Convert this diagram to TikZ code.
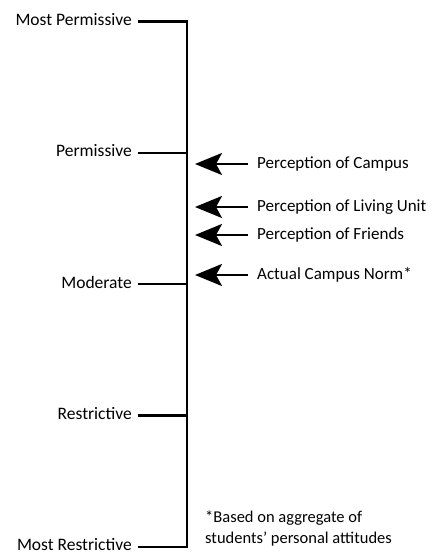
\documentclass[tikz,border=0pt]{standalone}
\usepackage{fontspec}
\setmainfont{Carlito}
\usetikzlibrary{arrows.meta}

\begin{document}
\begin{tikzpicture}[x=1pt, y=-1pt]
    \tikzstyle{level}=[anchor=east, inner xsep=6pt, inner ysep=2pt, yshift=2pt, font=\fontsize{17.5}{19}\selectfont]
    \tikzstyle{belief}=[anchor=west, inner xsep=9pt, inner ysep=2pt, font=\fontsize{17}{19}\selectfont]
    \tikzstyle{note}=[anchor=west, align=left, inner sep=0pt, font=\fontsize{16.5}{21}\selectfont]
    \tikzstyle{tick}=[line width=2.8pt]
    \tikzstyle{pointer}=[line width=2.6pt, {Stealth[length=27pt, width=22pt, inset=6pt]}-]

    \useasboundingbox (0,0) rectangle (446,554);

    \foreach \name/\y [count=\i] in {Most Permissive/21.5, Permissive/153, Moderate/284, Restrictive/415.5, Most Restrictive/547} {
        \coordinate (A\i) at (187,\y);
        \node[level] (L\i) at (138,\y) {\name};
        \draw[tick] (L\i.east |- A\i) -- (A\i);
    }
    \draw[tick, line cap=rect] (A1) -- (A5);

    \foreach \name/\y [count=\i] in {Perception of Campus/164, Perception of Living Unit/207, Perception of Friends/235, Actual Campus Norm*/275} {
        \coordinate (P\i) at (195,\y);
        \node[belief] (B\i) at (248,\y) {\name};
        \draw[pointer] (P\i) -- (B\i.west);
    }

    \node[note] (N) at (205,528) {*Based on aggregate of\\students' personal attitudes};
\end{tikzpicture}
\end{document}
